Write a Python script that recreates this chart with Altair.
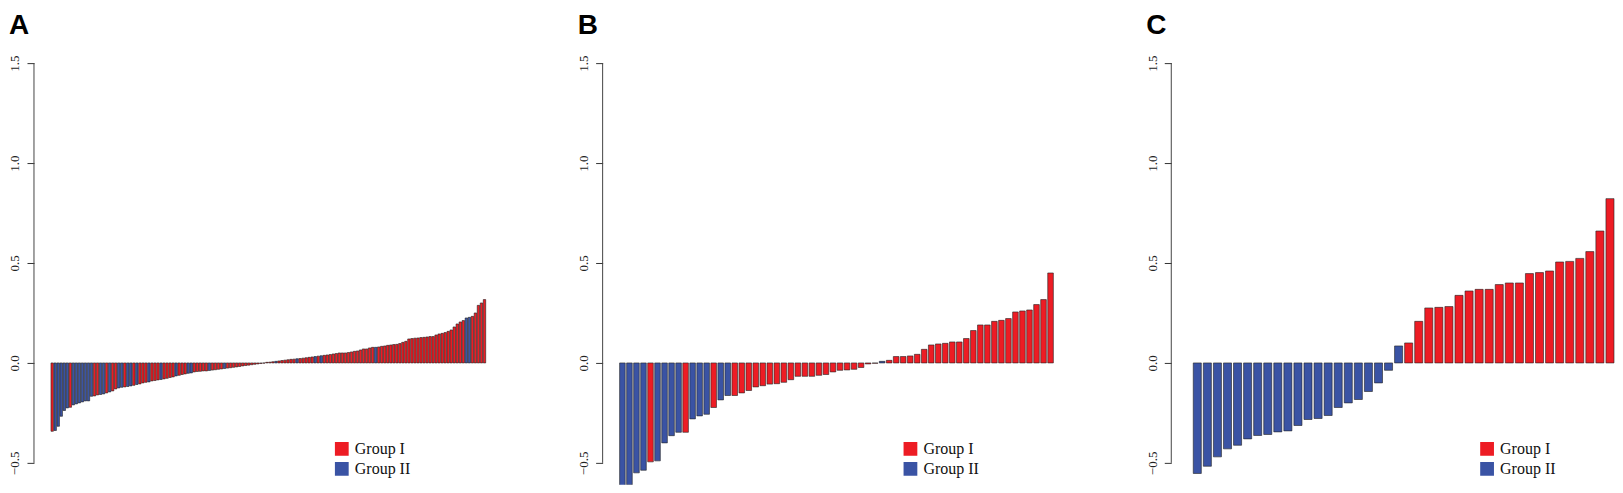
import altair as alt
import pandas as pd

# ---------------- data ----------------
GROUP_NAMES = ["Group I", "Group II"]
GROUP_COLORS = ["#ED1C24", "#3A53A4"]
Y_TICKS = [-0.5, 0.0, 0.5, 1.0, 1.5]
PANEL_LABELS = ["A", "B", "C"]

A_VALUES = [
    -0.342, -0.338, -0.317, -0.267, -0.238, -0.225, -0.222, -0.210, -0.205, -0.200,
    -0.195, -0.190, -0.190, -0.167, -0.165, -0.160, -0.158, -0.155, -0.150, -0.145,
    -0.140, -0.130, -0.125, -0.122, -0.120, -0.118, -0.115, -0.112, -0.108, -0.105,
    -0.100, -0.097, -0.095, -0.090, -0.088, -0.085, -0.083, -0.080, -0.077, -0.073,
    -0.070, -0.065, -0.062, -0.058, -0.055, -0.052, -0.050, -0.045, -0.043, -0.042,
    -0.040, -0.040, -0.038, -0.036, -0.034, -0.032, -0.030, -0.028, -0.026, -0.024,
    -0.022, -0.020, -0.018, -0.015, -0.013, -0.011, -0.009, -0.007, -0.005, -0.003,
    -0.001, 0.003, 0.004, 0.006, 0.008, 0.010, 0.012, 0.014, 0.016, 0.018,
    0.019, 0.021, 0.022, 0.024, 0.026, 0.028, 0.030, 0.032, 0.034, 0.036,
    0.038, 0.040, 0.042, 0.045, 0.047, 0.050, 0.050, 0.050, 0.052, 0.055,
    0.058, 0.060, 0.065, 0.070, 0.070, 0.075, 0.078, 0.078, 0.080, 0.083,
    0.085, 0.088, 0.090, 0.092, 0.093, 0.097, 0.103, 0.108, 0.120, 0.122,
    0.124, 0.125, 0.127, 0.128, 0.130, 0.132, 0.132, 0.140, 0.145, 0.148,
    0.152, 0.158, 0.165, 0.180, 0.195, 0.205, 0.212, 0.225, 0.228, 0.233,
    0.250, 0.288, 0.300, 0.317,
]
A_CODES = [
    1, 2, 2, 2, 2, 2, 1, 2, 2, 2,
    2, 2, 2, 2, 1, 1, 2, 2, 1, 2,
    1, 1, 2, 2, 1, 2, 2, 1, 2, 1,
    1, 1, 2, 1, 1, 1, 2, 1, 1, 1,
    1, 2, 1, 1, 1, 2, 2, 1, 1, 1,
    1, 1, 2, 1, 1, 1, 1, 2, 1, 1,
    1, 1, 1, 1, 1, 1, 1, 1, 1, 1,
    1, 1, 1, 1, 2, 1, 1, 1, 1, 1,
    1, 2, 1, 1, 1, 1, 1, 2, 1, 2,
    1, 1, 1, 1, 1, 1, 1, 1, 1, 1,
    1, 1, 1, 1, 1, 1, 1, 2, 1, 1,
    1, 1, 1, 1, 1, 1, 1, 1, 1, 1,
    1, 1, 1, 1, 1, 1, 1, 1, 1, 1,
    1, 1, 1, 1, 1, 1, 1, 2, 2, 1,
    1, 1, 1, 1,
]

B_VALUES = [
    -0.640, -0.610, -0.550, -0.537, -0.495, -0.490, -0.400, -0.364, -0.347, -0.347,
    -0.280, -0.265, -0.257, -0.223, -0.185, -0.163, -0.163, -0.150, -0.138, -0.120,
    -0.114, -0.106, -0.104, -0.097, -0.084, -0.067, -0.067, -0.067, -0.062, -0.058,
    -0.045, -0.037, -0.035, -0.032, -0.023, -0.005, -0.002, 0.008, 0.013, 0.032,
    0.032, 0.035, 0.043, 0.068, 0.090, 0.095, 0.098, 0.105, 0.105, 0.122,
    0.162, 0.190, 0.190, 0.208, 0.213, 0.222, 0.255, 0.260, 0.265, 0.292,
    0.317, 0.450,
]
B_CODES = [
    2, 2, 2, 2, 1, 2, 2, 2, 2, 1,
    2, 2, 2, 1, 2, 2, 1, 1, 1, 1,
    1, 1, 1, 1, 1, 1, 1, 1, 1, 1,
    1, 1, 1, 1, 1, 1, 1, 2, 1, 1,
    1, 1, 1, 1, 1, 1, 1, 1, 1, 1,
    1, 1, 1, 1, 1, 1, 1, 1, 1, 1,
    1, 1,
]

C_VALUES = [
    -0.553, -0.517, -0.470, -0.430, -0.412, -0.380, -0.363, -0.358, -0.345, -0.340,
    -0.313, -0.283, -0.278, -0.263, -0.223, -0.200, -0.183, -0.143, -0.100, -0.037,
    0.085, 0.100, 0.208, 0.275, 0.278, 0.282, 0.338, 0.360, 0.368, 0.368,
    0.392, 0.400, 0.400, 0.447, 0.452, 0.460, 0.505, 0.508, 0.523, 0.557,
    0.660, 0.822,
]
C_CODES = [2] * 21 + [1] * 21

Y_DOMAIN = [-0.61, 1.775]
HEIGHT = 477


def panel(values, codes, letter, width, bar_range, legend_x):
    df = pd.DataFrame({
        "i": list(range(len(values))),
        "v": values,
        "g": [GROUP_NAMES[c - 1] for c in codes],
    })
    yscale = alt.Scale(domain=Y_DOMAIN, nice=False, zero=False)
    bars = alt.Chart(df).mark_bar(stroke="#222222", strokeWidth=0.6, clip=True).encode(
        x=alt.X("i:O", axis=None,
                scale=alt.Scale(paddingInner=0.2, paddingOuter=0, range=bar_range)),
        y=alt.Y("v:Q", scale=yscale, title=None,
                axis=alt.Axis(values=Y_TICKS, format=".1f", domain=False, grid=False,
                              labelAngle=270, labelAlign="center", labelBaseline="bottom",
                              tickSize=7, tickColor="#333333", tickWidth=1,
                              labelPadding=5, labelFont="Liberation Serif",
                              labelFontSize=13, labelColor="#222222")),
        y2=alt.datum(0),
        color=alt.Color("g:N",
                        scale=alt.Scale(domain=GROUP_NAMES, range=GROUP_COLORS),
                        legend=alt.Legend(orient="none", legendX=legend_x, legendY=433,
                                          title=None, symbolType="square",
                                          symbolSize=190, symbolStrokeWidth=0,
                                          labelFont="Liberation Serif",
                                          labelFontSize=16, labelColor="#111111",
                                          rowPadding=4, padding=0, labelOffset=5)),
    )
    axis_df = pd.DataFrame({"lo": [min(Y_TICKS)], "hi": [max(Y_TICKS)]})
    axis_line = alt.Chart(axis_df).mark_rule(color="#444444", strokeWidth=1).encode(
        x=alt.value(0),
        y=alt.Y("lo:Q", scale=yscale, title=None),
        y2="hi:Q",
    )
    lab_df = pd.DataFrame({"t": [letter]})
    label = alt.Chart(lab_df).mark_text(
        font="Liberation Sans", fontWeight="bold", fontSize=28,
        align="left", baseline="alphabetic", color="black",
    ).encode(text="t:N", x=alt.value(-25), y=alt.value(26))
    return alt.layer(bars, axis_line, label).properties(width=width, height=HEIGHT)


pA = panel(A_VALUES, A_CODES, PANEL_LABELS[0], 467, [17, 452], 300)
pB = panel(B_VALUES, B_CODES, PANEL_LABELS[1], 467, [17, 451], 300)
pC = panel(C_VALUES, C_CODES, PANEL_LABELS[2], 444, [22, 443], 308)

chart = alt.hconcat(pA, pB, pC, spacing=102, bounds="flush").resolve_scale(
    x="independent", y="independent", color="independent"
).resolve_legend(color="independent").properties(padding=0).configure_view(stroke=None)

chart.save("out.html", embed_options={"renderer": "svg", "actions": False})
